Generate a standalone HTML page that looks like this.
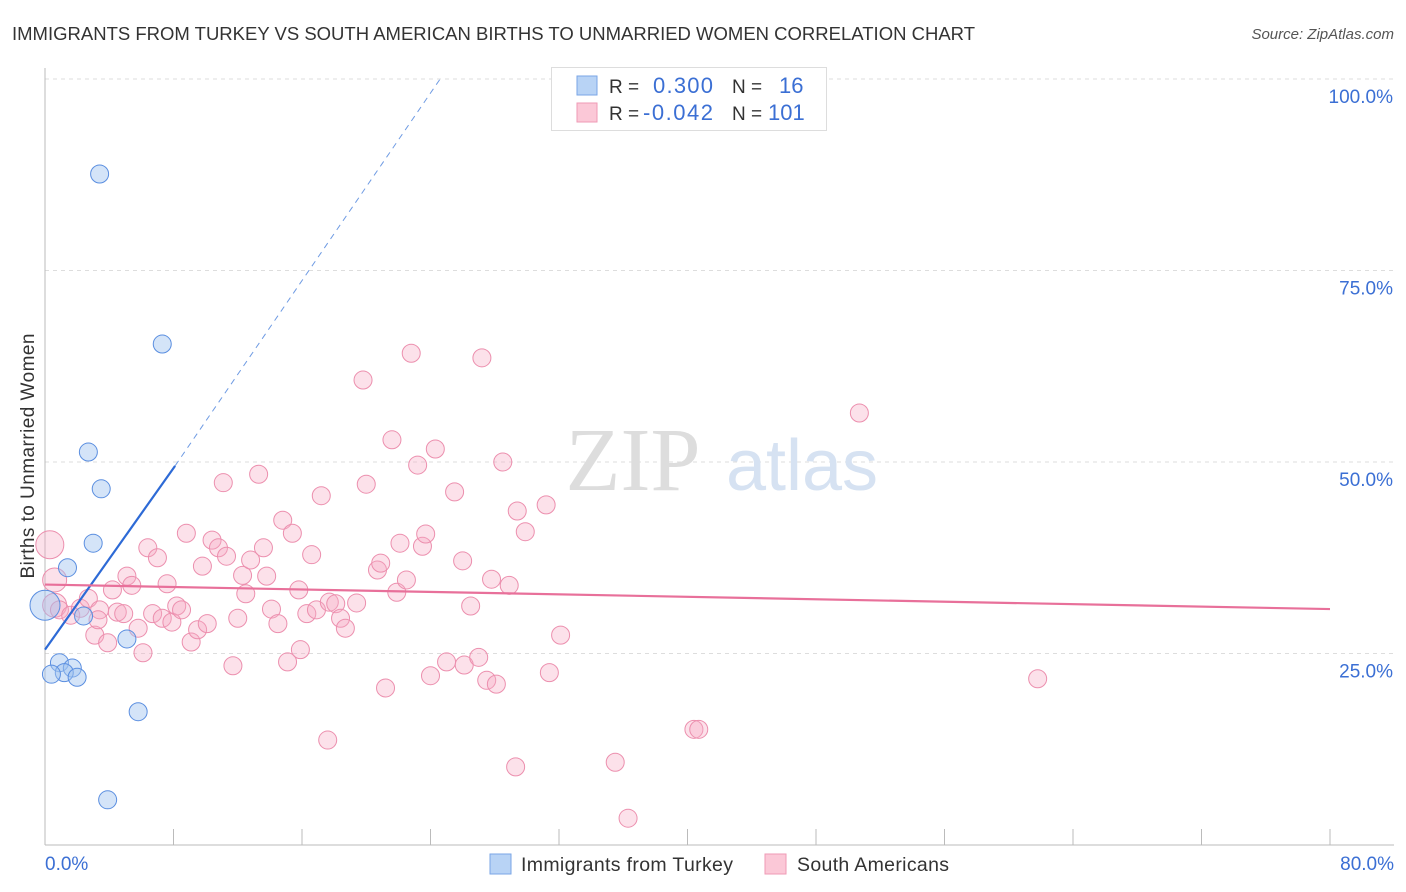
<!DOCTYPE html>
<html><head><meta charset="utf-8">
<style>
body{margin:0;background:#fff;font-family:"Liberation Sans",sans-serif;}
#wrap{position:relative;width:1406px;height:892px;overflow:hidden;}
</style></head>
<body>
<div id="wrap">
<svg id="svg" width="1406" height="892" xmlns="http://www.w3.org/2000/svg">
<text x="12" y="40" font-size="18.5" fill="#333" textLength="963" lengthAdjust="spacingAndGlyphs">IMMIGRANTS FROM TURKEY VS SOUTH AMERICAN BIRTHS TO UNMARRIED WOMEN CORRELATION CHART</text>
<text x="1394" y="39" font-size="15" fill="#555" font-style="italic" text-anchor="end">Source: ZipAtlas.com</text>
<text x="0" y="0" transform="translate(34,456) rotate(-90)" font-size="19" fill="#333" text-anchor="middle" textLength="245">Births to Unmarried Women</text>
<g id="grid"></g>
<g>
<text x="633" y="490" font-size="90" font-family="Liberation Serif" fill="#ddd" text-anchor="middle">ZIP</text>
<text x="802" y="490" font-size="72" fill="#d6e2f2" text-anchor="middle">atlas</text>
</g>
<line x1="45" y1="68" x2="45" y2="845" stroke="#bbb"/>
<line x1="45" y1="845" x2="1394" y2="845" stroke="#bbb"/>
<g id="ticks"></g>
<g id="ylabels"></g>
<text x="45" y="870" font-size="19" fill="#3b6fd4">0.0%</text>
<text x="1394" y="870" font-size="19" fill="#3b6fd4" text-anchor="end">80.0%</text>
<g id="pink"></g>
<g id="blue"></g>
<g id="trends"></g>
<g>
<rect x="551.5" y="67.5" width="275" height="63" fill="#fff" stroke="#ddd"/>
<rect x="577" y="76" width="20" height="19" fill="#b8d3f5" stroke="#7aa6e6"/>
<rect x="577" y="103" width="20" height="19" fill="#fbc8d7" stroke="#ef9ab5"/>
<text x="609" y="93" font-size="19" fill="#333">R =</text>
<text x="653" y="93" font-size="22" fill="#3b6fd4" textLength="60">0.300</text>
<text x="732" y="93" font-size="19" fill="#333">N =</text>
<text x="779" y="93" font-size="22" fill="#3b6fd4">16</text>
<text x="609" y="120" font-size="19" fill="#333">R =</text>
<text x="643" y="120" font-size="22" fill="#3b6fd4" textLength="70">-0.042</text>
<text x="732" y="120" font-size="19" fill="#333">N =</text>
<text x="768" y="120" font-size="22" fill="#3b6fd4">101</text>
</g>
<g>
<rect x="490" y="854" width="21" height="20" fill="#b8d3f5" stroke="#7aa6e6"/>
<text x="521" y="871" font-size="19.5" fill="#333" textLength="212">Immigrants from Turkey</text>
<rect x="765" y="854" width="21" height="20" fill="#fbc8d7" stroke="#ef9ab5"/>
<text x="797" y="871" font-size="19.5" fill="#333" textLength="152">South Americans</text>
</g>
</svg>
</div>
<script>
const yTicks=[25,50,75,100];
const yTickLabels=["25.0%","50.0%","75.0%","100.0%"];
const xTicks=[0,8,16,24,32,40,48,56,64,72,80];
// Immigrants from Turkey: x (%), y (%)
const blueX=[3.4,7.3,2.7,3.5,3.0,1.4,2.4,5.1,0.9,1.7,1.2,0.4,2.0,5.8,3.9,0.0];
const blueY=[87.6,65.4,51.3,46.5,39.4,36.2,29.9,26.9,23.8,23.1,22.5,22.3,21.9,17.4,5.9,31.3];
const blueR=[9,9,9,9,9,9,9,9,9,9,9,9,9,9,9,15];
// South Americans
const pinkX=[0.3,0.6,0.6,0.9,1.6,2.2,2.7,3.1,3.4,3.3,3.9,4.2,4.5,4.9,5.1,5.4,5.8,6.1,6.4,6.7,7.0,7.3,7.6,7.9,8.2,8.5,8.8,9.1,9.5,9.8,10.1,10.4,10.8,11.1,11.3,11.7,12.0,12.3,12.5,12.8,13.3,13.6,13.8,14.1,14.5,14.8,15.1,15.4,15.8,15.9,16.3,16.6,16.9,17.2,17.6,17.7,18.1,18.4,18.7,19.4,19.8,20.0,20.7,20.9,21.2,21.6,21.9,22.1,22.5,22.8,23.2,23.5,23.7,24.0,24.3,25.0,25.5,26.0,26.1,26.5,27.0,27.2,27.5,27.8,28.1,28.5,28.9,29.3,29.4,29.9,31.2,31.4,32.1,35.5,36.3,40.4,40.7,50.7,61.8];
const pinkY=[39.2,34.6,31.3,30.7,30.0,30.9,32.2,27.4,30.7,29.4,26.4,33.3,30.4,30.2,35.1,33.9,28.3,25.1,38.8,30.2,37.5,29.6,34.1,29.1,31.2,30.7,40.7,26.5,28.1,36.4,28.9,39.8,38.8,47.3,37.7,23.4,29.6,35.2,32.8,37.2,48.4,38.8,35.1,30.8,28.9,42.4,23.9,40.7,33.3,25.5,30.2,37.9,30.7,45.6,13.7,31.7,31.5,29.6,28.3,31.6,60.7,47.1,35.9,36.8,20.5,52.9,33.0,39.4,34.6,64.2,49.6,39.0,40.6,22.1,51.7,23.9,46.1,37.1,23.5,31.2,24.5,63.6,21.5,34.7,21.0,50.0,33.9,10.2,43.6,40.9,44.4,22.5,27.4,10.8,3.5,15.1,15.1,56.4,21.7];
const trendBlue=[[0,25.5],[8.1,49.5],[24.6,100]];
const trendPink=[[0,34.0],[80,30.8]];
const X0=45,X1=1330,Y0=845,Y100=79;
const sx=v=>X0+(X1-X0)*v/80;
const sy=v=>Y0-(Y0-Y100)*v/100;
const NS="http://www.w3.org/2000/svg";
function mk(t,a,p){const e=document.createElementNS(NS,t);for(const k in a)e.setAttribute(k,a[k]);p.appendChild(e);return e;}
const grid=document.getElementById('grid'),yl=document.getElementById('ylabels');
yTicks.forEach((t,i)=>{
 const l=mk('line',{x1:45,x2:1394,y1:sy(t),y2:sy(t),stroke:'#ddd','stroke-dasharray':'4,4'},grid);
 
 
 const tx=mk('text',{x:1393,y:sy(t)+24,'font-size':19,fill:'#3b6fd4','text-anchor':'end'},yl);
 tx.textContent=yTickLabels[i];
 
 
});
const tk=document.getElementById('ticks');
xTicks.forEach(t=>{
 const l=mk('line',{x1:sx(t),x2:sx(t),y1:829,y2:845,stroke:'#bbb'},tk);
 
 
});
const pg=document.getElementById('pink');
pinkX.forEach((x,i)=>{
 const r=(i<3)?(i==0?14:12):9;
 const c=mk('circle',{cx:sx(x),cy:sy(pinkY[i]),r:r,fill:'rgba(247,170,195,0.35)',stroke:'#ec8fae','stroke-width':1},pg);
 
 
});
const bg=document.getElementById('blue');
blueX.forEach((x,i)=>{
 const c=mk('circle',{cx:sx(x),cy:sy(blueY[i]),r:blueR[i],fill:'rgba(160,195,240,0.45)',stroke:'#5a8ee0','stroke-width':1},bg);
 
 
});
const tr=document.getElementById('trends');
let l1=mk('line',{x1:sx(trendBlue[0][0]),y1:sy(trendBlue[0][1]),x2:sx(trendBlue[1][0]),y2:sy(trendBlue[1][1]),stroke:'#2d6ad6','stroke-width':2.2},tr);


let l2=mk('line',{x1:sx(trendBlue[1][0]),y1:sy(trendBlue[1][1]),x2:sx(trendBlue[2][0]),y2:sy(trendBlue[2][1]),stroke:'#6f9be3','stroke-width':1,'stroke-dasharray':'6,5'},tr);


let l3=mk('line',{x1:sx(trendPink[0][0]),y1:sy(trendPink[0][1]),x2:sx(trendPink[1][0]),y2:sy(trendPink[1][1]),stroke:'#e8709a','stroke-width':2.2},tr);


</script>
</body></html>
